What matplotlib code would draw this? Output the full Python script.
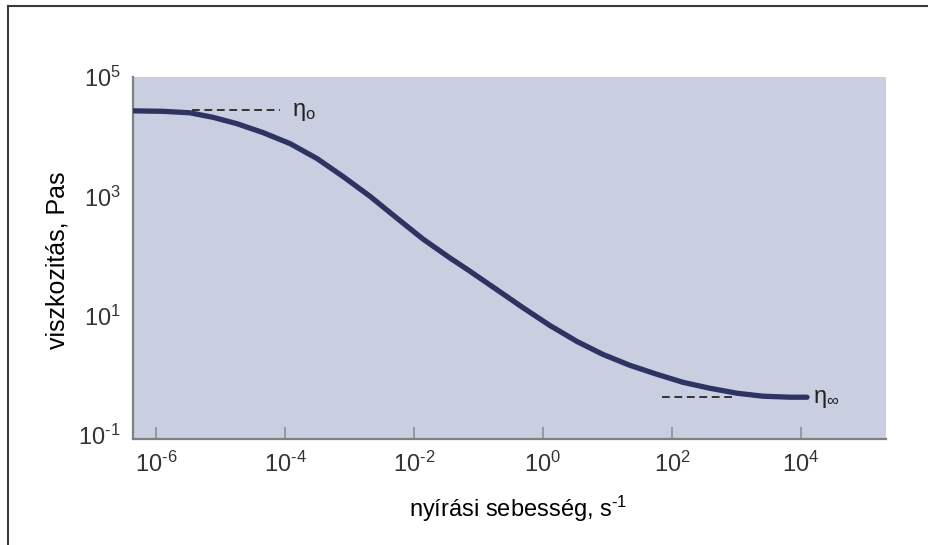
import matplotlib
matplotlib.use('Agg')
import matplotlib.pyplot as plt
from matplotlib.lines import Line2D
from matplotlib.ticker import NullLocator

plt.rcParams['font.family'] = ['Liberation Sans', 'DejaVu Sans']
plt.rcParams['mathtext.fontset'] = 'custom'
plt.rcParams['mathtext.rm'] = 'Liberation Sans'
plt.rcParams['mathtext.it'] = 'Liberation Sans'
plt.rcParams['mathtext.default'] = 'regular'

# curve (shear rate 1/s, viscosity Pa s)
shear_rate = [4.40e-7, 1.29e-6, 3.37e-6, 7.65e-6, 1.80e-5, 4.56e-5, 1.20e-4,
              3.13e-4, 7.93e-4, 2.08e-3, 5.44e-3, 1.38e-2, 3.61e-2, 6.87e-2,
              0.194, 0.490, 1.29, 3.37, 8.51, 22.3, 58.5, 148, 388, 1020,
              2580, 6750, 12400]
viscosity = [27100, 26600, 25100, 21100, 16500, 11700, 7640,
             4300, 2150, 1000, 430, 192, 92.6, 58.5,
             27.1, 13.6, 6.81, 3.69, 2.24, 1.47, 1.04, 0.764, 0.607, 0.501,
             0.447, 0.430, 0.430]

eta0_line_x = [3.6e-6, 8.5e-5]
eta0_val = 28200
etainf_line_x = [70, 1000]
etainf_val = 0.43

H = '\u2010'  # short hyphen as in the original labels
xticks = [1e-6, 1e-4, 1e-2, 1e0, 1e2, 1e4]
xtick_labels = ['$10^{%s6}$' % H, '$10^{%s4}$' % H, '$10^{%s2}$' % H,
                '$10^{0}$', '$10^{2}$', '$10^{4}$']
yticks = [1e-1, 1e1, 1e3, 1e5]
ytick_labels = ['$10^{%s1}$' % H, '$10^{1}$', '$10^{3}$', '$10^{5}$']

fig = plt.figure(figsize=(9.29, 5.45), dpi=100)
ax = fig.add_axes([0.1432, 0.1945, 0.8105, 0.6642])
ax.set_facecolor('#c9cee0')

ax.plot(shear_rate, viscosity, color='#2d3462', lw=3.8, solid_capstyle='round', zorder=3)
ax.plot(eta0_line_x, [eta0_val, eta0_val], color='#333333', lw=1.4, dashes=(4, 2.4), zorder=2)
ax.plot(etainf_line_x, [etainf_val, etainf_val], color='#333333', lw=1.4, dashes=(4, 2.4), zorder=2)
ax.text(1.3e-4, eta0_val * 0.93, r'$\eta_{o}$', fontsize=17, va='center', ha='left', color='#222222')
ax.text(1.55e4, etainf_val * 0.93, r'$\eta_{\infty}$', fontsize=17, va='center', ha='left', color='#222222')

ax.set_xscale('log')
ax.set_yscale('log')
ax.set_xlim(10**-6.357, 10**5.318)
ax.set_ylim(10**-1.067, 10**4.967)

ax.set_xticks(xticks)
ax.set_xticklabels(xtick_labels)
ax.set_yticks(yticks)
ax.set_yticklabels(ytick_labels)
ax.xaxis.set_minor_locator(NullLocator())
ax.yaxis.set_minor_locator(NullLocator())
ax.tick_params(axis='x', direction='in', length=9, width=1.1, color='#8a8a8a',
               labelsize=17, pad=9, labelcolor='#333333')
ax.tick_params(axis='y', length=0, labelsize=17, pad=9, labelcolor='#333333')

for s in ['top', 'right']:
    ax.spines[s].set_visible(False)
for s in ['left', 'bottom']:
    ax.spines[s].set_color('#808080')
    ax.spines[s].set_linewidth(1.6)

fig.text(518 / 929, 1 - 509 / 545, 'nyírási sebesség, s$^{%s1}$' % H, fontsize=17,
         ha='center', va='center')
fig.text(58 / 929, 1 - 260 / 545, 'viszkozitás, Pas', fontsize=18,
         ha='center', va='center', rotation=90)

# outer frame
fig.add_artist(Line2D([8 / 929, 1], [1 - 5.5 / 545] * 2, color='#3a3a3a', lw=1.5))
fig.add_artist(Line2D([8 / 929] * 2, [0, 1 - 5.5 / 545], color='#3a3a3a', lw=1.5))

fig.savefig('out.png', dpi=100)
